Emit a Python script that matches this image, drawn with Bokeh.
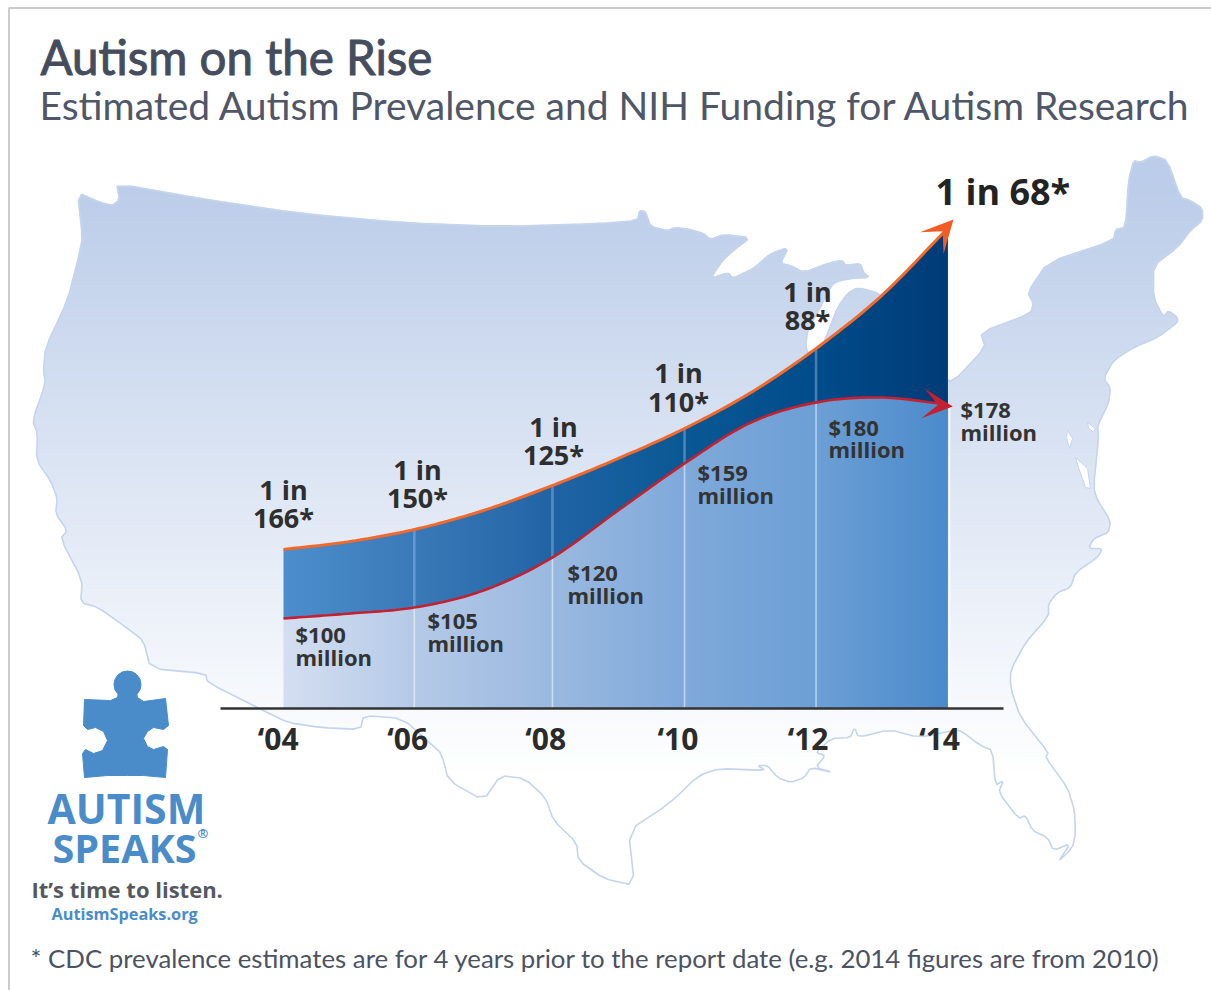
import numpy as np
from bokeh.plotting import figure
from bokeh.models import Range1d, LinearAxis, FixedTicker, Arrow, VeeHead
from bokeh.core.properties import value
from bokeh.embed import file_html
from bokeh.resources import INLINE

# ---- data ----
reading_years = [2004, 2005, 2005.97, 2007.01, 2008.05, 2009.04, 2010.04, 2011.04, 2012.02, 2013.01, 2014]
prevalence_height = [159, 167, 179, 198, 223, 250, 280, 316, 360, 413, 480]
funding_height = [90, 95, 101, 118, 151, 198, 245, 286, 306, 311, 304]
divider_years = [2005.97, 2008.05, 2010.04, 2012.02]
divider_prev = [179, 223, 280, 360]
divider_fund = [101, 151, 245, 306]
tick_years = [2003.92, 2005.87, 2007.95, 2009.94, 2011.90, 2013.88]
tick_labels = ["\u201804", "\u201806", "\u201808", "\u201810", "\u201812", "\u201814"]
prevalence_labels = ["166*", "150*", "125*", "110*", "88*"]
funding_labels = ["$100", "$105", "$120", "$159", "$180", "$178"]
title = "Autism on the Rise"
subtitle = "Estimated Autism Prevalence and NIH Funding for Autism Research"
footnote = "* CDC prevalence estimates are for 4 years prior to the report date (e.g. 2014 figures are from 2010)"

# ---- page geometry ----
W, H = 1211, 990
BASE_PX = 708.0
PX_PER_YEAR = 66.4
def yr(px):
    return 2004 + (px - 283) / PX_PER_YEAR

p = figure(width=W, height=H, output_backend="svg", toolbar_location=None,
           x_range=Range1d(yr(0), yr(W)), y_range=Range1d(BASE_PX - H, BASE_PX),
           x_axis_type=None, y_axis_type=None, min_border=0, outline_line_color=None,
           background_fill_color="white", border_fill_color="white")
p.extra_x_ranges["px"] = Range1d(0, W)
p.extra_y_ranges["py"] = Range1d(H, 0)
PX = dict(x_range_name="px", y_range_name="py")

# ---- US silhouette (decoration, traced) ----
map_outline = [
 (77,192),(100,202),(112,205),(119,199),(116,183),(200,198),(300,213),(400,222),(500,226),(600,223),(637,220),
 (639,210),(645,211),(650,226),(667,230),(675,227),(690,229),(703,233),(710,239),(723,234),(750,237),(733,250),
 (722,260),(710,278),(728,272),(732,278),(753,268),(770,253),(788,247),(780,263),(790,265),(803,272),(830,262),
 (842,260),(845,265),(860,263),(863,272),(869,277),(850,278),(840,280),(833,283),(830,287),(818,310),(807,330),
 (805,347),(812,360),(820,350),(827,333),(837,307),(847,293),(857,287),(880,293),(900,320),(940,375),(952,382),
 (985,347),(980,332),(1030,313),(1033,303),(1027,292),(1047,262),(1113,240),(1115,229),(1125,227),(1128,180),
 (1133,160),(1140,162),(1153,155),(1167,160),(1180,197),(1190,200),(1202,208),(1202,220),(1190,230),(1177,247),
 (1153,265),(1153,297),(1163,317),(1168,310),(1177,317),(1177,322),(1157,337),(1133,347),(1113,360),(1103,378),
 (1110,387),(1108,403),(1097,425),(1098,438),(1093,487),(1097,500),(1110,520),(1108,532),(1093,538),(1088,548),
 (1102,548),(1097,557),(1075,572),(1070,587),(1057,592),(1048,603),(1048,616),(1025,642),(1010,670),(1010,687),
 (1020,717),(1048,752),(1045,757),(1067,787),(1074,810),(1075,833),(1072,847),(1057,862),(1070,843),(1053,850),
 (1047,837),(1032,830),(1025,815),(1018,818),(998,792),(1003,780),(995,785),(992,750),(980,745),(960,730),
 (953,730),(918,737),(889,729),(858,737),(854,727),(850,737),(831,738),(815,752),(825,755),(815,767),(833,772),
 (810,767),(804,777),(790,782),(777,777),(767,765),(757,765),(765,770),(719,768),(698,775),(669,803),(628,830),
 (634,885),(603,878),(578,860),(576,842),(553,820),(545,797),(524,778),(500,775),(483,800),(448,780),(441,753),
 (430,743),(402,718),(363,715),(360,729),(320,727),(287,722),(263,710),(207,682),(205,673),(150,668),(143,640),
 (127,628),(98,607),(80,602),(82,580),(60,538),(67,530),(55,513),(57,498),(50,480),(36,460),(37,433),(32,420),
 (45,383),(43,370),(45,347),(67,300),(78,257),(82,237)]
map_holes = [
 [(1087,422),(1095,428),(1093,432),(1088,427)],
 [(1067,430),(1072,438),(1069,448),(1066,437)],
 [(1075,457),(1087,468),(1090,488),(1085,487),(1078,467)]]
mx = np.array([q[0] for q in map_outline], float)
my = np.array([q[1] for q in map_outline], float)

# soften the traced corners a little (corner cutting), keeps the coast organic
def cut(a, r=0.18):
    b = np.roll(a, -1)
    out = np.empty(2 * len(a))
    out[0::2] = a + r * (b - a)
    out[1::2] = b - r * (b - a)
    return out
mx, my = cut(mx), cut(my)

SS = 3
rows = np.zeros((H, W))
x0 = np.r_[mx]; y0 = np.r_[my]; x1 = np.roll(mx, -1); y1 = np.roll(my, -1)
for sub in range(H * SS):
    y = (sub + 0.5) / SS
    hit = ((y0 <= y) & (y1 > y)) | ((y1 <= y) & (y0 > y))
    xs = np.sort(x0[hit] + (y - y0[hit]) * (x1[hit] - x0[hit]) / (y1[hit] - y0[hit]))
    r = sub // SS
    for a, b in zip(xs[::2], xs[1::2]):
        ia, ib = int(np.floor(a)), int(np.floor(b))
        if ia == ib:
            rows[r, ia] += (b - a) / SS
        else:
            rows[r, ia] += (ia + 1 - a) / SS
            rows[r, ia + 1:ib] += 1 / SS
            if ib < W:
                rows[r, ib] += (b - ib) / SS
yy = np.arange(H)[:, None] + 0.5
t = np.clip((yy - 190) / (775 - 190), 0, 1)
top = np.array([0xBC, 0xCD, 0xE9])
img = np.zeros((H, W, 4), dtype=np.uint8)
for c in range(3):
    img[..., c] = np.round(top[c] + (255 - top[c]) * t).astype(np.uint8)[:, 0:1].repeat(W, axis=1)
img[..., 3] = np.round(np.clip(rows, 0, 1) * 255).astype(np.uint8)
p.image_rgba(image=[img[::-1].view(np.uint32).reshape(H, W)], x=[yr(0)], y=[BASE_PX - H],
             dw=[yr(W) - yr(0)], dh=[H])
p.line(list(mx) + [mx[0]], list(my) + [my[0]], line_color="#c4d4ed", line_width=1.6, **PX)
p.patches([[q[0] for q in h] for h in map_holes], [[q[1] for q in h] for h in map_holes],
          fill_color="white", line_color="#c4d4ed", line_width=1, **PX)

# ---- curves: smooth Hermite through the values read above ----
def smooth(xr, yr_, xq):
    xr = np.array(xr, float); yr_ = np.array(yr_, float)
    m = np.gradient(yr_, xr)
    i = np.clip(np.searchsorted(xr, xq, side="right") - 1, 0, len(xr) - 2)
    h = xr[i + 1] - xr[i]; s = (xq - xr[i]) / h
    return ((2*s**3 - 3*s**2 + 1) * yr_[i] + (s**3 - 2*s**2 + s) * h * m[i]
            + (-2*s**3 + 3*s**2) * yr_[i + 1] + (s**3 - s**2) * h * m[i + 1])

dense = np.linspace(2004, 2014, 167)
prev_d = smooth(reading_years, prevalence_height, dense)
fund_d = smooth(reading_years, funding_height, dense)

def hex2rgb(h): return [int(h[i:i+2], 16) for i in (1, 3, 5)]
grad_years = [2004, 2006, 2008, 2010, 2012, 2014]
upper_cols = ["#4c8ecd", "#3a79b8", "#2164a5", "#095894", "#004c8a", "#003b77"]
lower_cols = ["#d3def1", "#b4c9e7", "#9ab9e0", "#7fa9da", "#6c9fd5", "#4a8acb"]
def grad(cols, x):
    arr = np.array([hex2rgb(c) for c in cols], float)
    return ["#%02x%02x%02x" % tuple(int(round(np.interp(v, grad_years, arr[:, k]))) for k in range(3)) for v in x]

# painter's order: every slice runs a little past the next one, so no seams show
xs_l, ys_l, xs_u, ys_u = [], [], [], []
n = len(dense)
for i in range(n - 1):
    j = min(i + 4, n - 1)
    sx = list(dense[i:j + 1])
    xs_l.append(sx + [sx[-1], sx[0]]); ys_l.append(list(fund_d[i:j + 1]) + [0, 0])
    xs_u.append(sx + sx[::-1]); ys_u.append(list(prev_d[i:j + 1]) + list(fund_d[i:j + 1])[::-1])
mid = dense[:-1]
p.patches(xs_l, ys_l, fill_color=grad(lower_cols, mid), line_color=None)
p.patches(xs_u, ys_u, fill_color=grad(upper_cols, mid), line_color=None)

# dividers
p.segment(divider_years, [0]*4, divider_years, divider_fund, line_color="white", line_alpha=0.5, line_width=1.6)
p.segment(divider_years, divider_fund, divider_years, divider_prev, line_color="#9db9dd", line_alpha=0.45, line_width=2.6)
p.segment([2014.03], [0], [2014.03], [funding_height[-1]], line_color="white", line_alpha=0.8, line_width=1.6)

p.line(dense, prev_d, line_color="#f1692b", line_width=3)
p.line(dense, fund_d, line_color="#c5202f", line_width=2.6)
p.add_layout(Arrow(end=VeeHead(size=32, fill_color="#f15d24", line_color="#f15d24", line_width=0),
                   x_start=2013.3, y_start=432, x_end=2014.09, y_end=489, line_alpha=0, line_width=0))
p.add_layout(Arrow(end=VeeHead(size=30, fill_color="#c5202f", line_color="#c5202f", line_width=0),
                   x_start=2013.5, y_start=306, x_end=2014.08, y_end=302, line_alpha=0, line_width=0))

# axis
ax = LinearAxis(ticker=FixedTicker(ticks=tick_years),
                major_label_overrides=dict(zip(tick_years, tick_labels)),
                fixed_location=0, bounds=(yr(220), yr(1003)),
                axis_line_color="#333333", axis_line_width=2.6,
                major_tick_line_color=None, minor_tick_line_color=None,
                major_label_text_font="Open Sans", major_label_text_font_style="bold",
                major_label_text_font_size="30px", major_label_text_color="#2b2b2b",
                major_label_standoff=3)
p.add_layout(ax, "below")

# ---- texts ----
def txt(x, y, s, size, color, font="Open Sans", style="bold", align="left", outline=False):
    extra = dict(text_outline_color=color) if outline else {}
    p.text([x], [y - 0.39 * size], text=[s], text_font=value(font), text_font_style=style, text_font_size=f"{size}px",
           text_color=color, text_align=align, text_baseline="alphabetic", **extra, **PX)

HEAD = "#454c5e"
txt(40, 75, title, 47.5, HEAD, font="Lato", style="normal", outline=True)
txt(39, 120, subtitle, 39, "#4f5668", font="Lato", style="normal")
txt(30, 968, footnote, 25.8, "#4b5263", font="Lato", style="normal")

one_in = [(283, 500, 528), (417, 480, 508), (553, 437, 465), (678, 383, 412), (807, 302, 330)]
for (cx, y1_, y2_), lab in zip(one_in, prevalence_labels):
    txt(cx, y1_, "1 in", 27, "#2e2e2e", align="center")
    txt(cx, y2_, lab, 27, "#2e2e2e", align="center")
txt(935, 205, "1 in 68*", 36, "#232323")

money = [(295, 642, 665), (427, 628, 651), (567, 580, 603), (697, 480, 503), (828, 435, 457), (960, 417, 440)]
for (mx_, y1_, y2_), lab in zip(money, funding_labels):
    txt(mx_, y1_, lab, 22, "#333333")
    txt(mx_, y2_, "million", 22, "#333333")

# ---- logo ----
BLUE = "#4a8cca"
logo = [(84,699),(110,700),(117,697),(118,692),(136,692),(137,697),(143,701),(165,698),(168,725),(163,729),(153,727),
        (147,731),(143,738),(147,746),(153,749),(163,746),(167,749),(165,777),(143,775),(127,775),(107,775),(84,777),
        (82,753),(85,749),(93,753),(102,750),(107,740),(103,731),(95,727),(87,729),(83,725)]
p.patch([q[0] for q in logo], [q[1] for q in logo], fill_color=BLUE, line_color=BLUE, line_width=1, **PX)
p.scatter([127], [684], size=27, marker="circle", fill_color=BLUE, line_color=BLUE, **PX)
txt(47, 823, "AUTISM", 41, BLUE)
txt(52, 863, "SPEAKS", 39.5, BLUE)
txt(197, 838, "\u00ae", 13, BLUE)
txt(31, 897, "It\u2019s time to listen.", 22, "#55595e")
txt(51, 920, "AutismSpeaks.org", 16.3, BLUE)

# frame
p.line([1211, 8.5, 8.5], [7.5, 7.5, 990], line_color="#cbcbcf", line_width=2, **PX)

open("out.html", "w").write(file_html(p, INLINE))
